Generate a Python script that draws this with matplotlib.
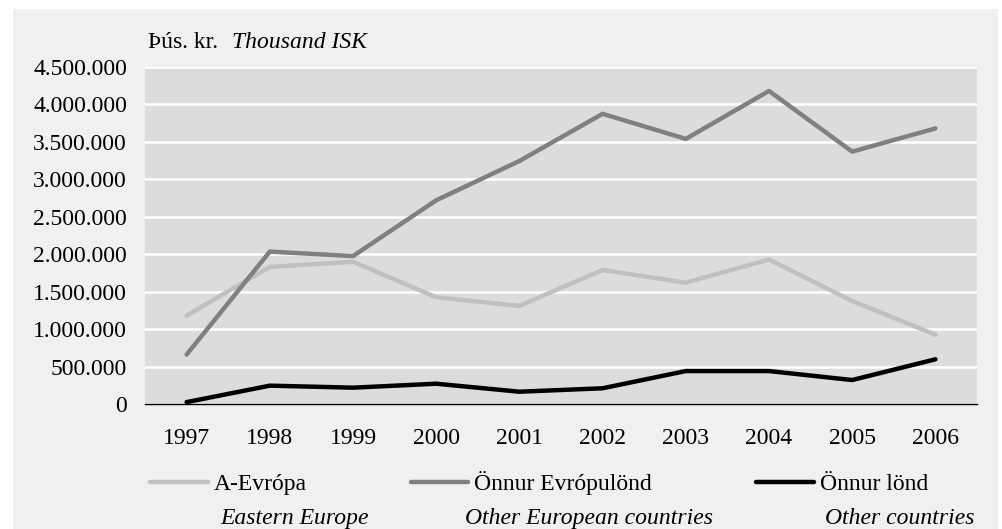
import matplotlib
matplotlib.use('Agg')
import matplotlib.pyplot as plt
from matplotlib.patches import Rectangle
from matplotlib.ticker import FuncFormatter

years = ['1997', '1998', '1999', '2000', '2001', '2002', '2003', '2004', '2005', '2006']
eastern_europe = [1180000, 1830000, 1900000, 1425000, 1310000, 1790000, 1620000, 1930000, 1375000, 925000]
other_europe = [660000, 2035000, 1975000, 2720000, 3245000, 3875000, 3540000, 4180000, 3370000, 3680000]
other_countries = [25000, 245000, 218000, 271000, 164000, 210000, 440000, 440000, 320000, 597000]

labels_is = ['A-Evrópa', 'Önnur Evrópulönd', 'Önnur lönd']
labels_en = ['Eastern Europe', 'Other European countries', 'Other countries']
colors = ['#c0c0c0', '#808080', '#000000']

W, H = 1002, 529
plt.rcParams['font.family'] = ['Liberation Serif', 'DejaVu Serif']
plt.rcParams['font.size'] = 17

fig = plt.figure(figsize=(W / 100, H / 100), dpi=100, facecolor='white')
fig.patches.append(Rectangle((13 / W, 0), 985 / W, 1 - 9 / H, transform=fig.transFigure,
                             facecolor='#f0f0f0', edgecolor='none', zorder=-10))

ax = fig.add_axes([145 / W, 1 - 404 / H, 832 / W, 337 / H])
ax.set_facecolor('#dcdcdc')

x = list(range(len(years)))
handles = []
for series, color in zip([eastern_europe, other_europe, other_countries], colors):
    h, = ax.plot(x, series, color=color, lw=3.2, solid_capstyle='round', zorder=3)
    handles.append(h)

ax.set_xlim(-0.5, len(years) - 0.5)
ax.set_ylim(0, 4500000)
ax.set_yticks(range(0, 4500001, 500000))
ax.yaxis.set_major_formatter(FuncFormatter(lambda v, p: f'{int(v):,}'.replace(',', '.')))
ax.set_xticks(x)
ax.set_xticklabels(years)
ax.grid(axis='y', color='white', lw=1.8)
ax.set_axisbelow(True)
for s in ['top', 'left', 'right']:
    ax.spines[s].set_visible(False)
ax.spines['bottom'].set_color('black')
ax.spines['bottom'].set_linewidth(1)
ax.spines['bottom'].set_zorder(4)
ax.tick_params(axis='both', length=0)
ax.tick_params(axis='y', pad=13)
ax.tick_params(axis='x', pad=17)

fig.text(148 / W, 1 - 48 / H, 'Þús. kr.', va='baseline', ha='left', fontsize=17)
fig.text(232 / W, 1 - 48 / H, 'Thousand ISK', va='baseline', ha='left', fontsize=17, fontstyle='italic')

fig.legend(handles, labels_is, ncol=3, loc='center left', bbox_to_anchor=(150 / W, 1 - 483 / H),
           frameon=False, borderpad=0, borderaxespad=0, handlelength=2.45, handletextpad=0.25,
           columnspacing=4.4, fontsize=17)

for xpos, txt in zip([220, 465, 825], labels_en):
    fig.text(xpos / W, 1 - 524 / H, txt, va='baseline', ha='left', fontsize=17, fontstyle='italic')

fig.savefig('out.png', dpi=100, facecolor='white')
